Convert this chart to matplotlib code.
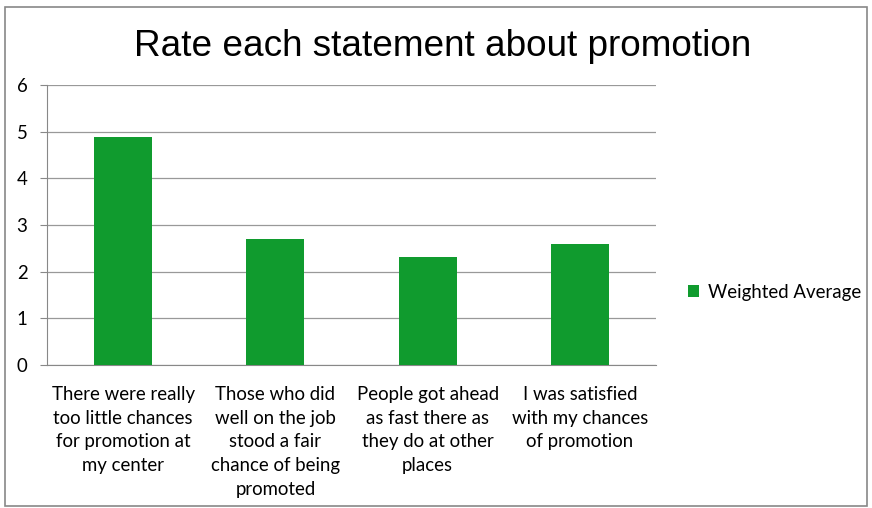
import numpy as np
import matplotlib.pyplot as plt
from matplotlib.patches import Rectangle

categories = ['There were really\ntoo little chances\nfor promotion at\nmy center',
              'Those who did\nwell on the job\nstood a fair\nchance of being\npromoted',
              'People got ahead\nas fast there as\nthey do at other\nplaces',
              'I was satisfied\nwith my chances\nof promotion']
weighted_avg = [4.88, 2.70, 2.31, 2.59]

fig = plt.figure(figsize=(8.72, 5.08), dpi=100)
ax = fig.add_axes([47/872, 1-365/508, 609/872, 280/508])

x = np.arange(len(categories))
ax.bar(x, weighted_avg, width=0.38, color='#109B2E', label='Weighted Average', zorder=3)

ax.set_xlim(-0.5, 3.5)
ax.set_ylim(0, 6)
ax.set_yticks(range(0, 7))
ax.set_xticks(x)
ax.set_xticklabels(categories, fontsize=13.4, family='Lato', linespacing=1.48, va='top')
ax.tick_params(axis='x', length=0, pad=15)
ax.tick_params(axis='y', labelsize=13.4, length=5, color='#888888', pad=9)
for lbl in ax.get_yticklabels():
    lbl.set_family('Lato')

ax.grid(axis='y', color='#999999', linewidth=0.9, zorder=0)
for s in ['top', 'right']:
    ax.spines[s].set_visible(False)
ax.spines['left'].set_color('#888888')
ax.spines['bottom'].set_color('#888888')

fig.suptitle('Rate each statement about promotion', fontsize=26.6, family='Liberation Sans',
             x=443/872, y=1-29/508, va='top')

ax.legend(loc='center left', bbox_to_anchor=(1.025, 0.26), frameon=False,
          prop={'family': 'Lato', 'size': 13.4}, handlelength=0.6, handleheight=0.6,
          handletextpad=0.5)

fig.patches.append(Rectangle((5/872, 2/508), 862/872, 499/508, transform=fig.transFigure,
                             fill=False, edgecolor='#888888', linewidth=1.2))

fig.savefig('out.png', dpi=100)
